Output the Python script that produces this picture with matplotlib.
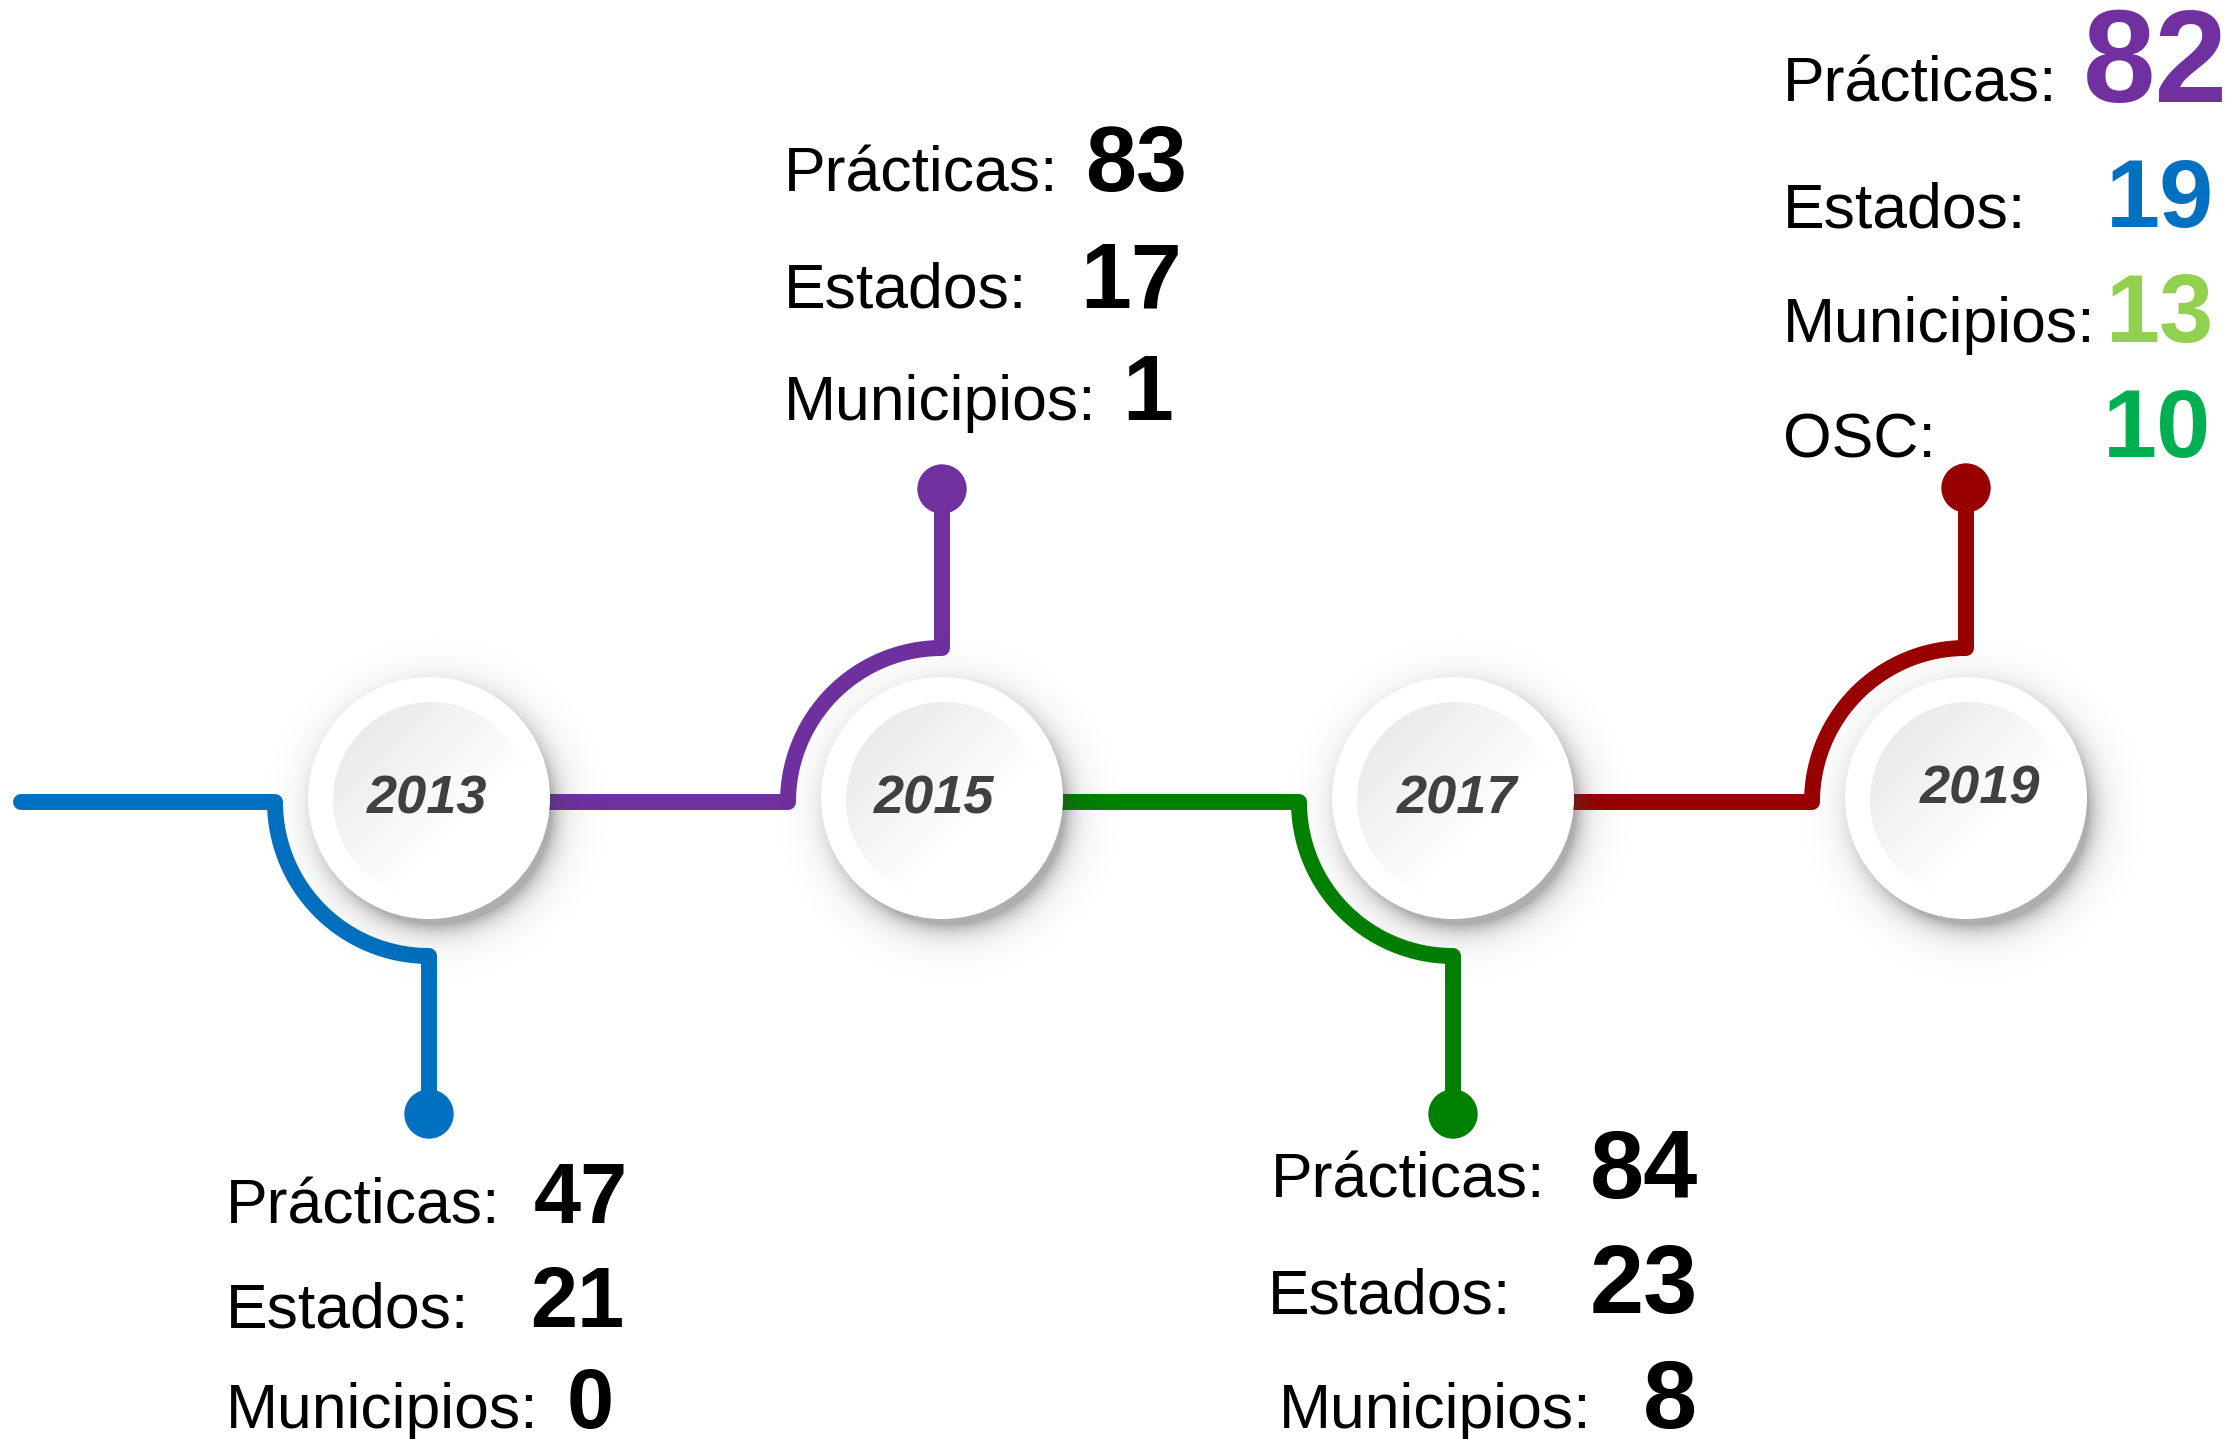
import numpy as np
import matplotlib.pyplot as plt
from matplotlib.patches import Circle

# datos
years = ["2013", "2015", "2017", "2019"]
practicas = [47, 83, 84, 82]
estados = [21, 17, 23, 19]
municipios = [0, 1, 8, 13]
osc = [None, None, None, 10]

line_colors = ["#0070C0", "#7030A0", "#008000", "#990000"]
num_colors_2019 = ["#7030A0", "#0070C0", "#92D050", "#00B050"]

# layout in pixel units
W, H = 2238, 1439
circle_x = [429, 942, 1453, 1966]
circle_y = 798
line_y = 802
arc_r = 154
stem_dir = [1, -1, 1, -1]       # 1 = down, -1 = up
dot_y = [1114, 489, 1114, 488]
r_out, r_in = 121, 98

year_text_pos = [(427, 813), (934, 813), (1457, 813), (1980, 803)]

label_x = [[226, 226, 226], [784, 784, 784], [1271, 1268, 1279], [1783, 1783, 1783, 1783]]
label_y = [[1223, 1327, 1428], [191, 307, 420], [1198, 1313, 1428], [102, 227, 342, 457]]
num_x = [[534, 530, 567], [1085, 1080, 1122], [1590, 1590, 1643], [2083, 2106, 2106, 2103]]
num_size = [[61, 61, 61], [66, 66, 66], [70, 70, 70], [94, 70, 70, 70]]

FONT = "Liberation Sans"
LW = 11.5


def main():
    fig = plt.figure(figsize=(W / 100, H / 100), dpi=100)
    ax = fig.add_axes([0, 0, 1, 1])
    ax.set_xlim(0, W)
    ax.set_ylim(H, 0)
    ax.axis("off")

    # connector lines
    for i, cx in enumerate(circle_x):
        x_start = 21 if i == 0 else circle_x[i - 1]
        corner = cx - arc_r
        theta = np.radians(np.linspace(180, 90, 60))
        ax_x = cx + arc_r * np.cos(theta)
        ax_y = line_y + stem_dir[i] * arc_r * np.sin(theta)
        xs = np.concatenate([[x_start, corner], ax_x, [cx]])
        ys = np.concatenate([[line_y, line_y], ax_y, [dot_y[i]]])
        ax.plot(xs, ys, color=line_colors[i], lw=LW, solid_capstyle="round",
                solid_joinstyle="round", zorder=1)
        ax.add_patch(Circle((cx, dot_y[i]), 24, color=line_colors[i], zorder=1))

    # soft shadows under the year circles
    yy, xx = np.mgrid[0:H, 0:W]
    alpha = np.zeros((H, W))
    for cx in circle_x:
        d = np.hypot(xx - (cx + 7), yy - (circle_y + 11))
        a = 0.42 * np.exp(-np.clip(d - (r_out - 6), 0, None) / 12.0)
        alpha = np.maximum(alpha, a)
    shadow = np.zeros((H, W, 4))
    shadow[..., :3] = 0.25
    shadow[..., 3] = alpha
    ax.imshow(shadow, extent=[0, W, H, 0], origin="upper", zorder=2,
              interpolation="bilinear")

    # year circles
    for i, cx in enumerate(circle_x):
        ax.add_patch(Circle((cx, circle_y), r_out, facecolor="white",
                            edgecolor="none", zorder=3))
        n = 200
        gy, gx = np.mgrid[0:n, 0:n]
        u = ((gx - n / 2) + (gy - n / 2)) / (np.sqrt(2) * n / 2)
        g = 0.925 + 0.075 * np.clip((u + 0.9) / 1.3, 0, 1)
        img = np.dstack([g, g, g])
        inner = Circle((cx + 2, circle_y + 2), r_in, facecolor="none",
                       edgecolor="none", zorder=4)
        ax.add_patch(inner)
        im = ax.imshow(img, extent=[cx + 2 - r_in, cx + 2 + r_in,
                                    circle_y + 2 + r_in, circle_y + 2 - r_in],
                       origin="upper", zorder=4, interpolation="bilinear")
        im.set_clip_path(inner)
        tx, ty = year_text_pos[i]
        ax.text(tx, ty, years[i], fontsize=39, fontweight="bold", style="italic",
                color="#404040", ha="center", va="baseline", family=FONT, zorder=5)

    # value blocks
    for i in range(len(years)):
        names = ["Prácticas:", "Estados:", "Municipios:"]
        vals = [practicas[i], estados[i], municipios[i]]
        if osc[i] is not None:
            names.append("OSC:")
            vals.append(osc[i])
        for j, (name, v) in enumerate(zip(names, vals)):
            ax.text(label_x[i][j], label_y[i][j], name, fontsize=45, color="black",
                    ha="left", va="baseline", family=FONT, zorder=5)
            col = num_colors_2019[j] if i == 3 else "black"
            ax.text(num_x[i][j], label_y[i][j], str(v), fontsize=num_size[i][j],
                    fontweight="bold", color=col, ha="left", va="baseline",
                    family=FONT, zorder=5)

    fig.savefig("out.png", dpi=100, facecolor="white")
    plt.close(fig)


if __name__ == "__main__":
    main()
